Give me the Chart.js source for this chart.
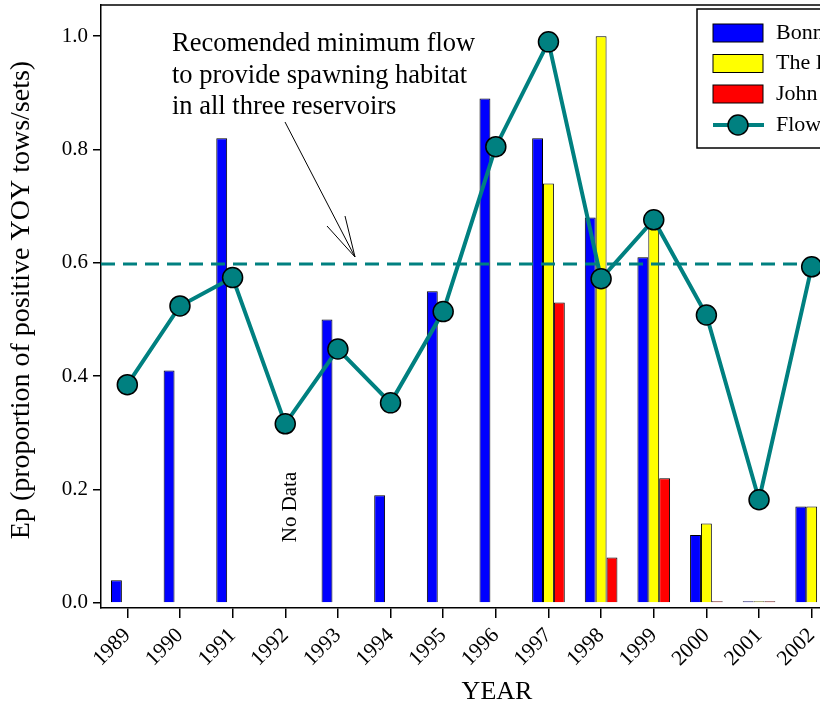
<!DOCTYPE html>
<html>
<head>
<meta charset="utf-8">
<script src="https://cdn.jsdelivr.net/npm/chart.js@4.4.1/dist/chart.umd.min.js"></script>
<style>
  html, body { margin: 0; padding: 0; background: #fff; overflow: hidden; }
  #wrap { position: relative; width: 860px; height: 709px; }
</style>
</head>
<body>
<div id="wrap"><canvas id="chart"></canvas></div>
<script>
// data
const years = ['1989', '1990', '1991', '1992', '1993', '1994', '1995', '1996', '1997', '1998', '1999', '2000', '2001', '2002'];
const bonneville = [0.04, 0.41, 0.82, null, 0.50, 0.19, 0.55, 0.89, 0.82, 0.68, 0.61, 0.12, 0.003, 0.17];
const theDalles = [null, null, null, null, null, null, null, null, 0.74, 1.00, 0.67, 0.14, 0.003, 0.17];
const johnDay = [null, null, null, null, null, null, null, null, 0.53, 0.08, 0.22, 0.003, 0.003, null];
const flow = [0.385, 0.524, 0.574, 0.316, 0.448, 0.353, 0.514, 0.805, 0.990, 0.572, 0.676, 0.508, 0.182, 0.593];
const minFlow = 0.598;
const yTicks = [0, 0.2, 0.4, 0.6, 0.8, 1.0];
const noteLines = ['Recomended minimum flow', 'to provide spawning habitat', 'in all three reservoirs'];

const serif = '"Liberation Serif", "Times New Roman", serif';
Chart.defaults.font.family = serif;
Chart.defaults.color = '#000';

// dashed line, frame, notes, titles and legend
const overlay = {
    id: 'overlay',
    beforeDatasetDraw(chart, args) {
        if (args.index !== 3) return;
        const { ctx, chartArea, scales } = chart;
        const y = scales.y.getPixelForValue(minFlow);
        ctx.save();
        ctx.strokeStyle = '#008080';
        ctx.lineWidth = 3;
        ctx.setLineDash([14, 8]);
        ctx.beginPath();
        ctx.moveTo(chartArea.left, y);
        ctx.lineTo(chartArea.right, y);
        ctx.stroke();
        ctx.restore();
    },
    afterDraw(chart) {
        const { ctx, chartArea, scales } = chart;
        ctx.save();

        // top / right frame
        ctx.strokeStyle = '#000';
        ctx.lineWidth = 1.5;
        ctx.beginPath();
        ctx.moveTo(chartArea.left, chartArea.top);
        ctx.lineTo(chartArea.right, chartArea.top);
        ctx.lineTo(chartArea.right, chartArea.bottom);
        ctx.stroke();

        // note + arrow
        ctx.fillStyle = '#000';
        ctx.font = '26.5px ' + serif;
        ctx.textAlign = 'left';
        ctx.textBaseline = 'alphabetic';
        noteLines.forEach((t, i) => ctx.fillText(t, 172, 51 + i * 31.5));

        const yLine = scales.y.getPixelForValue(minFlow);
        const tip = { x: 355, y: yLine - 7 };
        ctx.lineWidth = 1;
        ctx.beginPath();
        ctx.moveTo(285, 122);
        ctx.lineTo(tip.x, tip.y);
        ctx.moveTo(327, 226);
        ctx.lineTo(tip.x, tip.y);
        ctx.lineTo(345, 216);
        ctx.stroke();

        // No Data for 1992
        ctx.save();
        ctx.translate(scales.x.getPixelForValue(3) + 5, 507);
        ctx.rotate(-Math.PI / 2);
        ctx.font = '21px ' + serif;
        ctx.textAlign = 'center';
        ctx.textBaseline = 'middle';
        ctx.fillText('No Data', 0, 0);
        ctx.restore();

        // axis titles
        ctx.font = '26px ' + serif;
        ctx.textAlign = 'center';
        ctx.textBaseline = 'middle';
        ctx.fillText('YEAR', 497, 692);
        ctx.save();
        ctx.translate(22, 300);
        ctx.rotate(-Math.PI / 2);
        ctx.font = '28px ' + serif;
        ctx.fillText('Ep (proportion of positive YOY tows/sets)', 0, 0);
        ctx.restore();

        // legend box
        const lx = 697, ly = 9, lh = 139;
        ctx.fillStyle = '#fff';
        ctx.fillRect(lx, ly, chart.width - lx + 10, lh);
        ctx.strokeStyle = '#000';
        ctx.lineWidth = 1.5;
        ctx.strokeRect(lx, ly, chart.width - lx + 10, lh);

        const ds = chart.data.datasets;
        const rows = [33, 63.5, 94, 125];
        ctx.font = '22px ' + serif;
        ctx.textAlign = 'left';
        ctx.textBaseline = 'middle';
        ds.forEach((d, i) => {
            const cy = rows[i];
            if (d.type === 'line') {
                ctx.strokeStyle = d.borderColor;
                ctx.lineWidth = d.borderWidth;
                ctx.beginPath();
                ctx.moveTo(713, cy);
                ctx.lineTo(764, cy);
                ctx.stroke();
                ctx.beginPath();
                ctx.arc(738, cy, d.pointRadius, 0, Math.PI * 2);
                ctx.fillStyle = d.pointBackgroundColor;
                ctx.fill();
                ctx.strokeStyle = d.pointBorderColor;
                ctx.lineWidth = d.pointBorderWidth;
                ctx.stroke();
            } else {
                ctx.fillStyle = d.backgroundColor;
                ctx.fillRect(713, cy - 9, 50, 18);
                ctx.strokeStyle = '#000';
                ctx.lineWidth = 1;
                ctx.strokeRect(713, cy - 9, 50, 18);
            }
            ctx.fillStyle = '#000';
            ctx.fillText(d.label, 776, cy);
        });

        ctx.restore();
    }
};

const barStyle = { borderColor: '#000', borderWidth: 1, barPercentage: 1, categoryPercentage: 0.62, order: 1 };

new Chart(document.getElementById('chart'), {
    type: 'bar',
    data: {
        labels: years,
        datasets: [
            { label: 'Bonneville', data: bonneville, backgroundColor: '#0000ff', ...barStyle },
            { label: 'The Dalles', data: theDalles, backgroundColor: '#ffff00', ...barStyle },
            { label: 'John Day', data: johnDay, backgroundColor: '#ff0000', ...barStyle },
            {
                type: 'line', label: 'Flow', data: flow, order: 0,
                borderColor: '#008080', borderWidth: 4, tension: 0,
                pointRadius: 10, pointHoverRadius: 10,
                pointBackgroundColor: '#008080', pointBorderColor: '#000', pointBorderWidth: 1.5
            }
        ]
    },
    options: {
        responsive: true,
        maintainAspectRatio: false,
        animation: false,
        layout: { autoPadding: false, padding: { top: 5, right: 22, left: 0, bottom: 0 } },
        plugins: { legend: { display: false }, tooltip: { enabled: false } },
        scales: {
            x: {
                offset: true,
                grid: { offset: false, drawOnChartArea: false, color: '#000', tickLength: 10, lineWidth: 1.5 },
                border: { color: '#000', width: 1.5 },
                ticks: { autoSkip: false, minRotation: 45, maxRotation: 45, font: { size: 21.5 }, padding: 5 },
                afterFit(scale) { scale.height = 101; scale.paddingLeft = 0; scale.paddingRight = 0; }
            },
            y: {
                min: -0.009,
                max: 1.055,
                afterBuildTicks(scale) { scale.ticks = yTicks.map(v => ({ value: v })); },
                grid: { drawOnChartArea: false, color: '#000', tickLength: 8, lineWidth: 1.5 },
                border: { color: '#000', width: 1.5 },
                ticks: { font: { size: 21 }, padding: 5, callback: v => v.toFixed(1) },
                afterFit(scale) { scale.width = 101; scale.paddingTop = 0; scale.paddingBottom = 0; }
            }
        }
    },
    plugins: [overlay]
});
</script>
</body>
</html>
